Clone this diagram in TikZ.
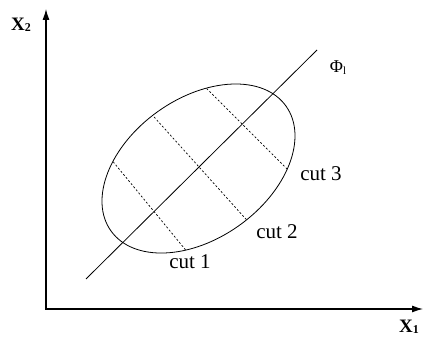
\documentclass[tikz,border=0pt]{standalone}
\usepackage{fontspec}
\setmainfont{Liberation Serif}
\usetikzlibrary{arrows.meta,calc}
\begin{document}
\begin{tikzpicture}[x=1pt,y=1pt,
  axis/.style={line width=1.1pt,-{Latex[length=11pt,width=7pt]}},
  mainline/.style={line width=0.8pt},
  cutline/.style={line width=0.7pt,dash pattern=on 2pt off 2pt},
  cutlabel/.style={font=\fontsize{21}{24}\selectfont,inner sep=0pt},
  axlabel/.style={font=\fontsize{19}{22}\selectfont\bfseries,inner sep=0pt}]
\useasboundingbox (0,0) rectangle (424,337);
% axes
\coordinate (O) at (46,28);
\coordinate (ytip) at (46,328);
\coordinate (xtip) at (423,28);
\draw[axis] ($(O)+(0,-1)$) -- (ytip);
\draw[axis] ($(O)+(-1,0)$) -- (xtip);
% principal line
\coordinate (la) at (86,58);
\coordinate (lb) at (317,287);
\draw[mainline] (la) -- (lb);
% ellipse
\coordinate (c) at (198.5,168.5);
\draw[mainline,rotate around={35.5:(c)}] (c) ellipse [x radius=107.5, y radius=70];
% cuts
\coordinate (c1a) at (115,173); \coordinate (c1b) at (184,89);
\coordinate (c2a) at (155,219); \coordinate (c2b) at (244,120);
\coordinate (c3a) at (206,249); \coordinate (c3b) at (285,170);
\begin{scope}
\clip[rotate around={35.5:(c)}] (c) ellipse [x radius=107.5, y radius=70];
\draw[cutline] ($(c1a)!-0.1!(c1b)$) -- ($(c1b)!-0.1!(c1a)$);
\draw[cutline] ($(c2a)!-0.1!(c2b)$) -- ($(c2b)!-0.1!(c2a)$);
\draw[cutline] ($(c3a)!-0.1!(c3b)$) -- ($(c3b)!-0.1!(c3a)$);
\end{scope}
% labels
\node[cutlabel] (l1) at (190,75) {cut 1};
\node[cutlabel] (l2) at (277,105) {cut 2};
\node[cutlabel] (l3) at (321,163) {cut 3};
\node[inner sep=0pt,font=\fontsize{18}{20}\selectfont] (phi) at (338,269) {Φ\raisebox{-2pt}{\fontsize{11}{12}\selectfont l}};
\node[axlabel] (xl2) at (21,312) {X\raisebox{-1pt}{\fontsize{12}{13}\selectfont 2}};
\node[axlabel] (xl1) at (409,10) {X\raisebox{-1pt}{\fontsize{12}{13}\selectfont 1}};
\end{tikzpicture}
\end{document}
